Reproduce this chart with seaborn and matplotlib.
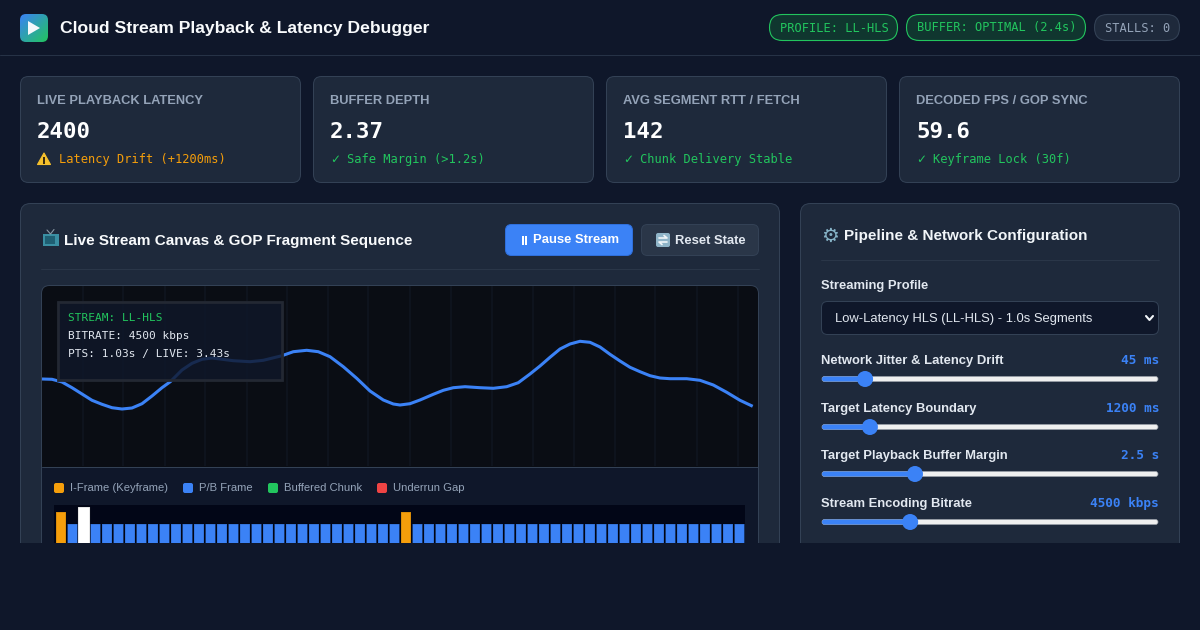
import numpy as np
import pandas as pd
import seaborn as sns
import matplotlib.pyplot as plt
from matplotlib.patches import FancyBboxPatch, Polygon, Rectangle, Circle

# values
stream_time = [1, 11, 21, 31, 41, 51, 61, 71, 81, 91, 101, 111, 121, 129.3, 141, 151, 161, 171,
               179, 192.3, 209, 222.3, 241, 252.3, 265.7, 277.3, 289, 302.3, 315.7, 329, 342.3, 352.3, 359,
               369, 379, 392.3, 402.3, 412.3, 424, 439, 452.3, 465.7, 477.3, 489, 499, 509, 519, 529, 539,
               549, 559, 569, 579, 589, 599, 609, 619, 629, 645.7, 659, 672.3, 685.7, 699, 711.7]
stream_level = [88, 87.7, 85, 79.3, 73, 66.7, 62.7, 59.3, 58, 59, 63.3, 71, 79.3, 85.3, 97, 103.7, 107.7, 109,
                108, 106.3, 105.3, 106.7, 111.3, 115.3, 116.7, 115.3, 110.3, 100.3, 88.7, 76, 67, 63, 62,
                63.3, 67, 72.7, 76.7, 79.3, 80.3, 79.3, 78.7, 80.3, 84.3, 93, 101, 109.7, 118, 123, 125.7,
                124.7, 120, 112.7, 106, 99.7, 95.3, 91.3, 89, 88.3, 88.3, 86.7, 82, 74.7, 66.7, 60.7]
grid_times = [42, 82, 124, 164, 206, 246, 287, 327, 369, 410, 451, 492, 533, 574, 614, 656, 697]

frame_sizes = [53, 41, 58] + [41] * 27 + [53] + [41] * 29
frame_kinds = ["I", "P", "head"] + ["P"] * 27 + ["I"] + ["P"] * 29
frame_colors = {"I": "#f59e0b", "P": "#3b82f6", "head": "#ffffff"}

card_titles = ["LIVE PLAYBACK LATENCY", "BUFFER DEPTH", "AVG SEGMENT RTT / FETCH", "DECODED FPS / GOP SYNC"]
card_values = ["2400", "2.37", "142", "59.6"]
card_notes = ["Latency Drift (+1200ms)", "Safe Margin (>1.2s)", "Chunk Delivery Stable", "Keyframe Lock (30f)"]
card_note_colors = ["#f59e0b", "#22c55e", "#22c55e", "#22c55e"]
card_left = [20, 313, 606, 899]

legend_labels = ["I-Frame (Keyframe)", "P/B Frame", "Buffered Chunk", "Underrun Gap"]
legend_colors = ["#f59e0b", "#3b82f6", "#22c55e", "#ef4444"]
legend_left = [54, 183, 268, 377]

slider_labels = ["Network Jitter & Latency Drift", "Target Latency Boundary",
                 "Target Playback Buffer Margin", "Stream Encoding Bitrate"]
slider_values = ["45 ms", "1200 ms", "2.5 s", "4500 kbps"]
slider_fracs = [0.112, 0.127, 0.267, 0.252]
slider_y = [379, 427, 474, 522]

SANS = ["Liberation Sans", "DejaVu Sans"]
MONO = ["DejaVu Sans Mono", "DejaVu Sans"]
BG = "#0f172a"
PANEL = "#1e293b"
LINE = "#334155"
BLUE = "#3b82f6"
GREEN = "#22c55e"
MUTED = "#94a3b8"
HAIR = 0.72

sns.set_style("dark")
plt.rcParams["font.family"] = SANS


def px(size):
    return size * 0.72


def rbox(ax, x0, y0, x1, y1, r, fc, ec="none", lw=HAIR, **kw):
    p = FancyBboxPatch((x0, y0), x1 - x0, y1 - y0, boxstyle=f"round,pad=0,rounding_size={r}",
                       fc=fc, ec=ec, lw=lw, **kw)
    ax.add_patch(p)
    return p


def screen_axes(zorder):
    ax = fig.add_axes([0, 0, 1, 1], zorder=zorder)
    ax.set_xlim(0, 1200)
    ax.set_ylim(630, 0)
    ax.axis("off")
    ax.patch.set_alpha(0)
    return ax


def label(ax, x, y, s, size, color, bold=False, mono=False, ha="left"):
    # proportional text sits a little high with va=center
    ax.text(x, y if mono else y + 1.4, s, fontsize=px(size), color=color, ha=ha, va="center", zorder=6,
            fontweight="bold" if bold else "normal", family=MONO if mono else SANS)


fig = plt.figure(figsize=(12, 6.3), dpi=100, facecolor=BG)
back = screen_axes(0)
front = screen_axes(5)

# header
back.plot([0, 1200], [55, 55], color="#263246", lw=HAIR)
logo = rbox(back, 20, 14, 48, 42, 6, "none")
gx, gy = np.meshgrid(np.linspace(0, 1, 40), np.linspace(0, 1, 40))
mix = ((gx + gy) / 2)[..., None]
grad = (1 - mix) * np.array([59, 130, 246]) / 255 + mix * np.array([34, 197, 94]) / 255
img = back.imshow(grad, extent=(20, 48, 42, 14), aspect="auto", zorder=2)
img.set_clip_path(logo)
back.set_xlim(0, 1200)
back.set_ylim(630, 0)
back.add_patch(Polygon([(28, 21), (40, 28), (28, 35)], fc="#f4f8fb", ec="none", zorder=3))
label(back, 60, 27, "Cloud Stream Playback & Latency Debugger", 17.5, "#f8fafc", bold=True)

rbox(back, 769.5, 14.5, 897.5, 40.5, 13, "#10362f", GREEN, 0.8)
label(back, 780, 28, "PROFILE: LL-HLS", 12, GREEN, mono=True)
rbox(back, 906.5, 14.5, 1085.5, 40.5, 13, "#10362f", GREEN, 0.8)
label(back, 917, 28, "BUFFER: OPTIMAL (2.4s)", 12, GREEN, mono=True)
rbox(back, 1094.5, 14.5, 1179.5, 40.5, 13, "#1e293b", LINE, 0.8)
label(back, 1105, 28, "STALLS: 0", 12, MUTED, mono=True)

# metric cards
for left, title, value, note, col in zip(card_left, card_titles, card_values, card_notes, card_note_colors):
    rbox(back, left + 0.5, 76.5, left + 280.5, 182.5, 8, PANEL, LINE)
    label(back, left + 17, 100, title, 12.9, MUTED, bold=True)
    label(back, left + 17, 131.5, value, 22.4, "#ffffff", bold=True, mono=True)
    if col == GREEN:
        back.text(left + 17, 159, "✓", fontsize=px(12), color=col, va="center", family=["DejaVu Sans"])
        label(back, left + 34, 159, note, 12, col, mono=True)
    else:
        back.add_patch(Polygon([(44, 153), (50.5, 164.5), (37.5, 164.5)], fc="#f5c02c", ec="#f5c02c", lw=0.8, joinstyle="round"))
        back.add_patch(Rectangle((43.3, 156.5), 1.4, 5, fc="#3a2c10", ec="none"))
        back.add_patch(Rectangle((43.3, 162.3), 1.4, 1.4, fc="#3a2c10", ec="none"))
        label(back, left + 39, 159, note, 12, col, mono=True)

# panels, cut off by the page fold at y=543
rbox(back, 20.5, 203.5, 779.5, 600, 10, PANEL, LINE)
rbox(back, 800.5, 203.5, 1179.5, 600, 10, PANEL, LINE)
back.add_patch(Rectangle((0, 543), 1200, 87, fc=BG, ec="none", zorder=4))

# left panel head
back.add_patch(Rectangle((42.5, 234), 16.5, 12, fc="#3a8fa3", ec="none"))
back.add_patch(Rectangle((44.5, 236), 10, 8, fc="#1f5f73", ec="none"))
back.plot([47, 50.5, 54], [230, 234, 229.5], color="#8a9aa5", lw=0.8)
label(back, 64, 239.5, "Live Stream Canvas & GOP Fragment Sequence", 15.2, "#f8fafc", bold=True)
back.plot([41, 759], [268.5, 268.5], color="#2a3648", lw=HAIR)

rbox(back, 505.5, 224.5, 632.5, 255.5, 6, BLUE, "#2f6fdb")
back.add_patch(Rectangle((521.5, 236), 2, 9, fc="#ffffff", ec="none"))
back.add_patch(Rectangle((525, 236), 2, 9, fc="#ffffff", ec="none"))
label(back, 533, 238.5, "Pause Stream", 13, "#ffffff", bold=True)
rbox(back, 641.5, 224.5, 758.5, 255.5, 6, "#2a3648", LINE)
rbox(back, 656, 233, 670, 247, 2, "#8fb4c8")
back.plot([659, 667, 664], [238, 238, 235.5], color="#f1f5f9", lw=1.2)
back.plot([667, 659, 662], [242, 242, 244.5], color="#f1f5f9", lw=1.2)
label(back, 675, 239.5, "Reset State", 13, "#e2e8f0", bold=True)

# stream canvas
rbox(back, 41.5, 285.5, 758.5, 600, 8, "#0a0d14", LINE)
back.add_patch(Rectangle((42, 467), 716, 76, fc=BG, ec="none", zorder=2))
back.plot([42, 758], [466.5, 466.5], color=LINE, lw=HAIR, zorder=3)

canvas = fig.add_axes([41 / 1200, 1 - 466 / 630, 718 / 1200, 180 / 630], zorder=2)
canvas.patch.set_alpha(0)
sns.lineplot(x=stream_time, y=stream_level, ax=canvas, color=BLUE, lw=2.2, sort=False, errorbar=None)
canvas.lines[0].set_solid_joinstyle("round")
canvas.lines[0].set_solid_capstyle("butt")
canvas.set_xlim(0, 718)
canvas.set_ylim(1, 181)
canvas.set_xticks(grid_times)
canvas.set_yticks([])
canvas.tick_params(length=0, labelbottom=False)
canvas.grid(axis="x", color="#0f141e", lw=1.4)
canvas.set_axisbelow(True)
canvas.set(xlabel=None, ylabel=None)
sns.despine(ax=canvas, left=True, bottom=True)

# stream info overlay
front.add_patch(Rectangle((58, 302), 224, 78, fc="#0f172a", alpha=0.82, ec="none"))
front.add_patch(Rectangle((58, 302), 224, 78, fc="none", ec="#232833", lw=2.0))
label(front, 68, 318, "STREAM: LL-HLS", 11.15, GREEN, mono=True)
label(front, 68, 336, "BITRATE: 4500 kbps", 11.15, "#e2e8f0", mono=True)
label(front, 68, 354, "PTS: 1.03s / LIVE: 3.43s", 11.15, "#e2e8f0", mono=True)

# legend
for left, text, col in zip(legend_left, legend_labels, legend_colors):
    rbox(back, left, 483, left + 10, 493, 2, col, zorder=5)
    label(back, left + 16, 486.5, text, 11.25, MUTED)

# GOP fragment strip
back.add_patch(Rectangle((54, 505), 691, 38, fc="#020617", ec="none", zorder=3))
strip = fig.add_axes([54 / 1200, 1 - 543 / 630, 691 / 1200, 38 / 630], zorder=2)
strip.patch.set_alpha(0)
frames = pd.DataFrame({"frame": range(len(frame_sizes)), "size": frame_sizes, "kind": frame_kinds})
sns.barplot(data=frames, x="frame", y="size", hue="kind", hue_order=["I", "P", "head"], palette=frame_colors,
            dodge=False, legend=False, width=0.87, saturation=1, ax=strip, linewidth=0)
for bar in strip.patches:
    bar.set_snap(False)
    bar.set_edgecolor((0, 0, 0, 0.2))
    bar.set_linewidth(HAIR)
for bar in strip.containers[2]:
    bar.set_x(bar.get_x() - 0.09)
    bar.set_width(1.05)
strip.set_xlim(-0.609, 59.48)
strip.set_ylim(22, 60)
strip.axis("off")

# right panel
label(back, 821, 234.5, "⚙", 20, "#86b3c7")
label(back, 844, 234.5, "Pipeline & Network Configuration", 15.2, "#f1f5f9", bold=True)
back.plot([821, 1159], [259.5, 259.5], color="#2a3648", lw=HAIR)
label(back, 821, 285, "Streaming Profile", 13, "#e2e8f0", bold=True)
rbox(back, 821.5, 301.5, 1158.5, 334.5, 6, BG, LINE)
label(back, 835, 317.5, "Low-Latency HLS (LL-HLS) - 1.0s Segments", 13, "#e2e8f0")
back.plot([1146, 1149.5, 1153], [316, 320, 316], color="#f1f5f9", lw=1.5)

for y, text, value, frac in zip(slider_y, slider_labels, slider_values, slider_fracs):
    label(back, 821, y - 19, text, 13, "#e2e8f0", bold=True)
    label(back, 1159, y - 18.5, value, 12.8, BLUE, bold=True, mono=True, ha="right")
    thumb = 829 + frac * 322
    rbox(back, 822, y - 2.5, 1158, y + 2.5, 2.5, "#efefef", "#9aa0a8", 0.5)
    rbox(back, 822, y - 2.5, thumb, y + 2.5, 2.5, BLUE)
    back.add_patch(Circle((thumb, y), 8, fc=BLUE, ec="none", zorder=3))

fig.savefig("out.png", dpi=100, facecolor=BG)
